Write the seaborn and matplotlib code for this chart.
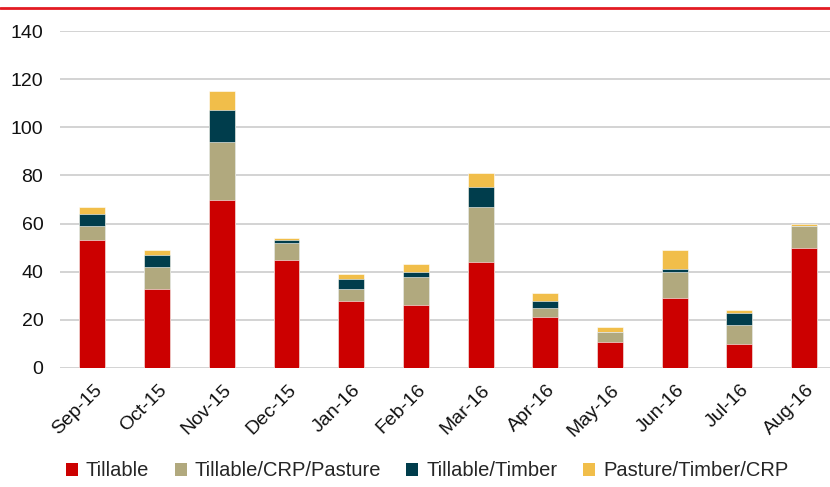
import pandas as pd
import numpy as np
import matplotlib
matplotlib.use("Agg")
import matplotlib.pyplot as plt
import matplotlib.transforms as mtransforms
from matplotlib.lines import Line2D
from matplotlib.patches import Patch
import seaborn as sns

# ---------------------------
# Data
# ---------------------------
months = ['Sep-15', 'Oct-15', 'Nov-15', 'Dec-15', 'Jan-16', 'Feb-16',
          'Mar-16', 'Apr-16', 'May-16', 'Jun-16', 'Jul-16', 'Aug-16']
tillable = [53, 33, 70, 45, 28, 26, 44, 21, 11, 29, 10, 50]
tillable_crp_pasture = [6, 9, 24, 7, 5, 12, 23, 4, 4, 11, 8, 9]
tillable_timber = [5, 5, 13, 1, 4, 2, 8, 3, 0, 1, 5, 0]
pasture_timber_crp = [3, 2, 8, 1, 2, 3, 6, 3, 2, 8, 1, 1]

series_names = ['Tillable', 'Tillable/CRP/Pasture', 'Tillable/Timber', 'Pasture/Timber/CRP']
series_colors = ['#CC0000', '#B1A97E', '#003D4C', '#F1BE4A']

df = pd.DataFrame({
    'month': months,
    'Tillable': tillable,
    'Tillable/CRP/Pasture': tillable_crp_pasture,
    'Tillable/Timber': tillable_timber,
    'Pasture/Timber/CRP': pasture_timber_crp,
})

# cumulative tops for stacking (draw tallest first, then overlay)
cum = df[series_names].cumsum(axis=1)

# ---------------------------
# Figure
# ---------------------------
sns.set_style("white")
plt.rcParams['font.family'] = ['Liberation Sans', 'DejaVu Sans']

fig = plt.figure(figsize=(8.3, 4.87), dpi=100)
ax = fig.add_axes([60 / 830, 119 / 487, 1 - 60 / 830, 337 / 487])

for name, color in reversed(list(zip(series_names, series_colors))):
    sns.barplot(x=df['month'], y=cum[name], color=color, saturation=1, width=0.4,
                edgecolor='white', linewidth=0.4, ax=ax, zorder=3)

ax.set_ylim(0, 140)
ax.set_xlim(-0.5, 11.4)
ax.set_yticks(range(0, 141, 20))
ax.yaxis.grid(True, color='#D0D0D0', linewidth=1.3, zorder=0)
ax.set_axisbelow(True)
ax.set_xlabel("")
ax.set_ylabel("")
for s in ax.spines.values():
    s.set_visible(False)

ax.tick_params(axis='y', length=0, pad=12, labelsize=14, labelcolor='#111111')
ax.tick_params(axis='x', length=0, pad=14, labelsize=14, labelcolor='#111111')
offset = mtransforms.ScaledTranslation(7 / 100, 0, fig.dpi_scale_trans)
for lab in ax.get_xticklabels():
    lab.set_rotation(45)
    lab.set_ha('right')
    lab.set_va('center')
    lab.set_rotation_mode('anchor')
    lab.set_transform(lab.get_transform() + offset)

# legend
handles = [Patch(facecolor=c, edgecolor='none', label=n) for n, c in zip(series_names, series_colors)]
fig.legend(handles=handles, loc='center', bbox_to_anchor=(427 / 830, 1 - 471 / 487),
           ncol=4, frameon=False, fontsize=14.5, handlelength=0.6, handleheight=0.6,
           handletextpad=0.4, columnspacing=1.25, borderaxespad=0)

# red rule at the top
fig.add_artist(Line2D([0, 1], [1 - 7.8 / 487, 1 - 7.8 / 487], transform=fig.transFigure,
                      color='#E31B23', linewidth=2))

fig.savefig("out.png", dpi=100)
plt.close(fig)
